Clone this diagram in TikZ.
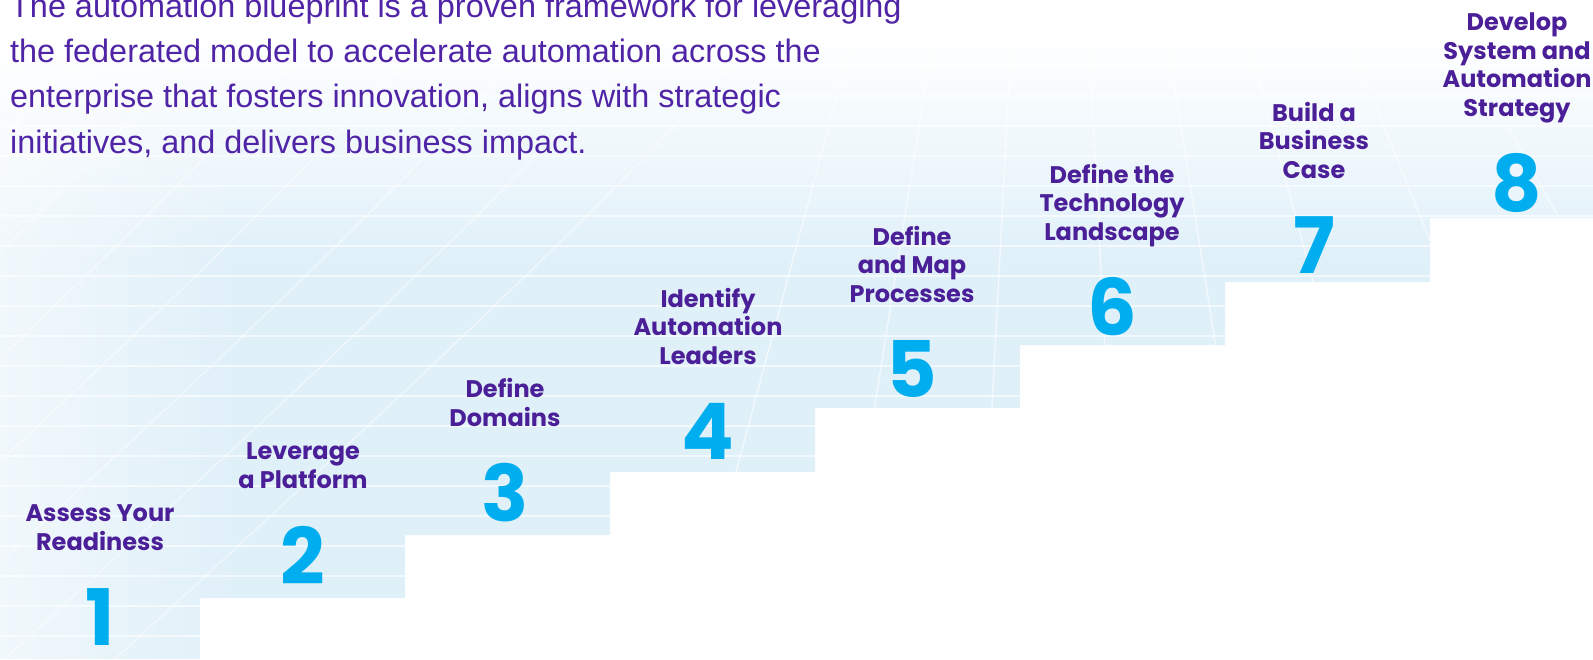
\documentclass[tikz,border=0pt]{standalone}
\usepackage{fontspec}
\setmainfont{Liberation Sans}
\newfontfamily\pop{Poppins}
\usetikzlibrary{fadings}
\definecolor{labpurple}{HTML}{4A1F97}
\definecolor{txtpurple}{HTML}{5024A6}
\definecolor{numcyan}{HTML}{00AEEF}
\definecolor{stepblue}{HTML}{E0F0F9}
\begin{document}
\begin{tikzpicture}[x=1pt,y=-1pt,
  lab/.style={font=\pop\bfseries\fontsize{24}{28.5}\selectfont, text=labpurple, align=center, inner sep=0pt, anchor=base},
  num/.style={font=\pop\bfseries\fontsize{78}{78}\selectfont, text=numcyan, inner sep=0pt},
  para/.style={font=\fontsize{32.4}{45.3}\selectfont, text=txtpurple, align=left, inner sep=0pt, anchor=base west},
  gridline/.style={white, line width=1.3pt, opacity=0.6}]
\useasboundingbox (0,0) rectangle (1593,659);
\clip (0,0) rectangle (1593,659);
\fill[white] (0,0) rectangle (1593,659);
% staircase background
\def\stairs{(0,0) -- (1593,0) -- (1593,218) -- (1430,218) -- (1430,282) -- (1225,282) -- (1225,345) -- (1020,345) -- (1020,408) -- (815,408) -- (815,472) -- (610,472) -- (610,535) -- (405,535) -- (405,598) -- (200,598) -- (200,659) -- (0,659) -- cycle}
\begin{scope}
  \clip \stairs;
  \shade[top color=white, bottom color=stepblue] (0,35) rectangle (1593,260);
  \fill[stepblue] (0,259) rectangle (1593,659);
  \foreach \y in {36,66,96,126,156,186,216,246,276,306,336,366,396,426,456,486,516,546,576,606,636}
    \draw[gridline] (0,\y) -- (1593,\y);
  \foreach \a in {-72,-64,-57,-50,-43,-36,-29,-22,-15,-9,-3,3,9,15}
    \draw[gridline] (1050,-700) -- ++({90+\a}:2600);
  \foreach \x in {-700,-590,-480,-370,-260,-150,-40,70}
    \draw[gridline, opacity=0.5] (\x,700) .. controls (\x+350,380) and (\x+600,150) .. (\x+760,-50);
  \fill[white] (0,0) rectangle (1593,37);
  \fill[white, opacity=0.55, path fading=east] (0,0) rectangle (240,659);
\end{scope}
% paragraph
\node[para] (intro) at (10,153) {The automation blueprint is a proven framework for leveraging\\the federated model to accelerate automation across the\\enterprise that fosters innovation, aligns with strategic\\initiatives, and delivers business impact.};
% numbers
\node[num] (n1) at (100,617) {1};
\node[num] (n2) at (303,555) {2};
\node[num] (n3) at (505,493) {3};
\node[num] (n4) at (708,431) {4};
\node[num] (n5) at (912,369) {5};
\node[num] (n6) at (1112,307) {6};
\node[num] (n7) at (1314,245) {7};
\node[num] (n8) at (1517,183) {8};
% labels (last line baseline)
\node[lab] (l1) at (100,550) {Assess Your\\Readiness};
\node[lab] (l2) at (303,488) {Leverage\\a Platform};
\node[lab] (l3) at (505,426) {Define\\Domains};
\node[lab] (l4) at (708,364) {Identify\\Automation\\Leaders};
\node[lab] (l5) at (912,302) {Define\\and Map\\Processes};
\node[lab] (l6) at (1112,240) {Define the\\Technology\\Landscape};
\node[lab] (l7) at (1314,178) {Build a\\Business\\Case};
\node[lab] (l8) at (1517,116) {Develop\\System and\\Automation\\Strategy};
\end{tikzpicture}
\end{document}
